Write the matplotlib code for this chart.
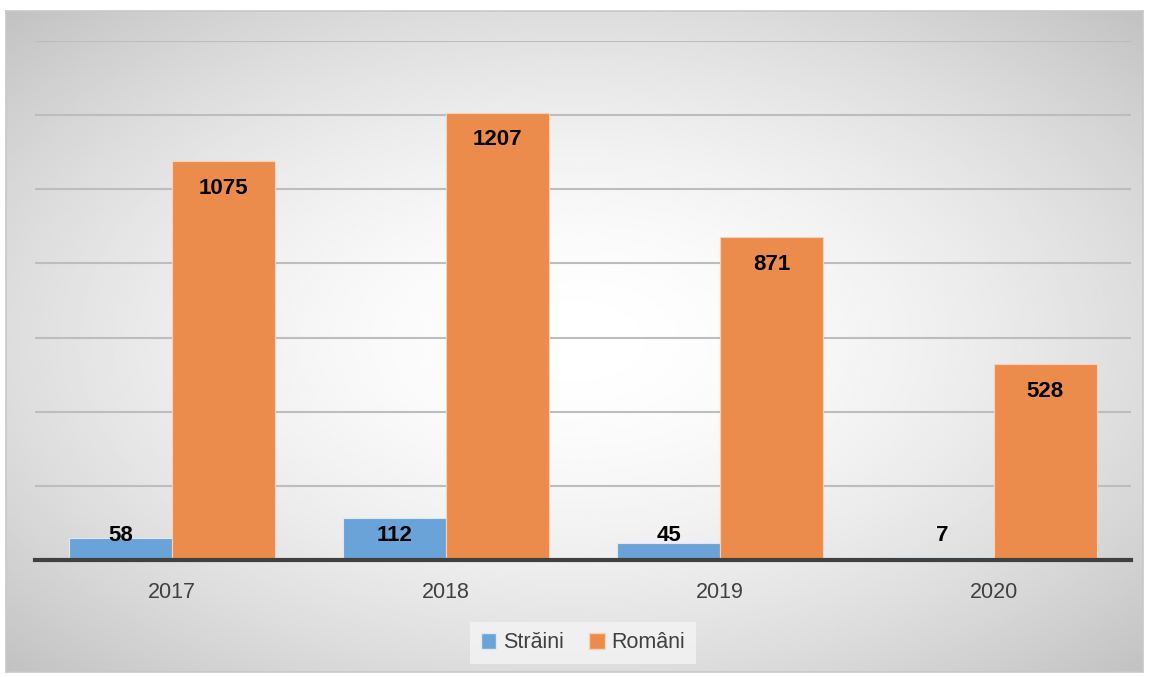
import numpy as np
import matplotlib.pyplot as plt
from matplotlib.patches import Patch

years = ['2017', '2018', '2019', '2020']
straini = [58, 112, 45, 7]
romani = [1075, 1207, 871, 528]
series_names = ['Străini', 'Români']

plt.rcParams['font.family'] = ['Liberation Sans', 'DejaVu Sans']

W, H = 1149, 677
fig = plt.figure(figsize=(W / 100, H / 100), dpi=100)
fig.patch.set_facecolor('white')

# radial gradient background inside the chart frame
bg = fig.add_axes([6 / W, 5 / H, 1137 / W, 661 / H], zorder=-1)
gx, gy = np.meshgrid(np.linspace(-1, 1, 400), np.linspace(-1, 1, 240))
d = np.sqrt(gx ** 2 + gy ** 2) / np.sqrt(2)
grey = 1.0 - 0.24 * d ** 1.7
bg.imshow(grey, cmap='gray', vmin=0, vmax=1, aspect='auto', interpolation='bilinear')
bg.set_xticks([])
bg.set_yticks([])
for s in bg.spines.values():
    s.set_color('#c8c8c8')
    s.set_linewidth(1.2)

ax = fig.add_axes([35 / W, 117 / H, 1096 / W, 519 / H])
ax.patch.set_visible(False)

x = np.arange(len(years))
w = 0.375
b1 = ax.bar(x - w / 2, straini, w, color='#6aa3d8', edgecolor='#dce9f5', linewidth=0.8, zorder=3)
b2 = ax.bar(x + w / 2, romani, w, color='#ec8c4c', edgecolor='#f6d2b8', linewidth=0.8, zorder=3)

for xi, v in zip(x, straini):
    ax.annotate(str(v), (xi - w / 2, 0), xytext=(0, 17.5), textcoords='offset points',
                ha='center', va='center', fontsize=16, fontweight='bold', color='black', zorder=5)
for xi, v in zip(x, romani):
    ax.annotate(str(v), (xi + w / 2, v), xytext=(0, -19.5), textcoords='offset points',
                ha='center', va='center', fontsize=16, fontweight='bold', color='black', zorder=5)

ax.set_xlim(-0.5, len(years) - 0.5)
ax.set_ylim(0, 1400)
ax.set_yticks(np.arange(200, 1401, 200))
ax.yaxis.grid(True, color='#bdbdbd', linewidth=1.5, zorder=0)
ax.tick_params(axis='y', left=False, labelleft=False)
ax.set_xticks(x)
ax.set_xticklabels(years, fontsize=15.5, color='#404040')
ax.tick_params(axis='x', length=0, pad=16)
for side in ['top', 'right', 'left']:
    ax.spines[side].set_visible(False)
ax.spines['bottom'].set_color('#404040')
ax.spines['bottom'].set_linewidth(3)
ax.spines['bottom'].set_zorder(4)

handles = [Patch(facecolor='#6aa3d8', edgecolor='#dce9f5'),
           Patch(facecolor='#ec8c4c', edgecolor='#f6d2b8')]
leg = fig.legend(handles, series_names, loc='center', bbox_to_anchor=(583 / W, 34 / H),
                 ncol=2, fontsize=15.5, frameon=True, handlelength=0.7, handleheight=0.7,
                 handletextpad=0.3, columnspacing=1.2, borderpad=0.5)
leg.get_frame().set_facecolor('#f4f4f4')
leg.get_frame().set_edgecolor('none')
leg.get_frame().set_boxstyle('square', pad=0)
for t in leg.get_texts():
    t.set_color('#404040')

fig.savefig('out.png', dpi=100)
